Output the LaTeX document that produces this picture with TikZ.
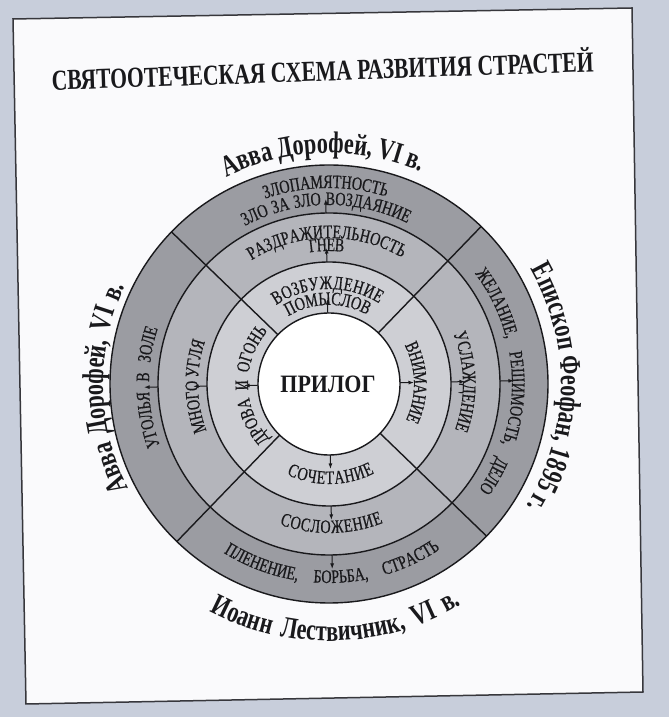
\documentclass[tikz,border=0pt]{standalone}
\usepackage{fontspec}
\setmainfont{Liberation Serif}
\newfontfamily\ringf[FakeStretch=0.74,FakeBold=0.6]{Liberation Serif}
\newfontfamily\labf[FakeStretch=0.74]{Liberation Serif}
\newfontfamily\prf[FakeStretch=0.88]{Liberation Serif}
\newfontfamily\titf[FakeStretch=0.745]{Liberation Serif}
\usetikzlibrary{arrows.meta,calc}
\definecolor{bgc}{RGB}{200,206,219}
\definecolor{paper}{RGB}{250,250,252}
\definecolor{framec}{RGB}{55,55,60}
\definecolor{ringA}{RGB}{155,156,162}
\definecolor{ringB}{RGB}{180,181,187}
\definecolor{ringC}{RGB}{206,207,212}
\definecolor{inkc}{RGB}{25,25,28}
\newcommand\RS{\ringf\fontsize{19}{21}\selectfont}
\newcommand\LBL{\labf\bfseries\fontsize{30}{32}\selectfont}
\ExplSyntaxOn
\box_new:N \l__arc_box
\dim_new:N \l__arc_L_dim
\int_new:N \l__arc_n_int
\int_new:N \l__arc_m_int
\fp_new:N \l__arc_T_fp
\fp_new:N \l__arc_L_fp
\fp_new:N \l__arc_gap_fp
\fp_new:N \l__arc_trk_fp
\fp_new:N \l__arc_W_fp
\fp_new:N \l__arc_pos_fp
\fp_new:N \l__arc_w_fp
\fp_new:N \l__arc_th_fp
\tl_new:N \g__arc_nodes_tl
\fp_const:Nn \c__arc_cx_fp {329}
\fp_const:Nn \c__arc_cy_fp {333}
\fp_const:Nn \c__arc_rot_fp {1}
% #1 baseline radius, #2 centre angle, #3 direction (1 = clockwise, tops outward; -1 = anticlockwise, tops inward)
% #4 font, #5 target chord of the whole text, #6 text
\NewDocumentCommand \arcstr { m m m m m m }
  {
    \dim_zero:N \l__arc_L_dim
    \int_zero:N \l__arc_n_int
    \int_zero:N \l__arc_m_int
    \str_map_inline:nn {#6}
      {
        \str_if_eq:nnTF {##1} {~}
          { \int_incr:N \l__arc_n_int }
          {
            \hbox_set:Nn \l__arc_box { #4 ##1 }
            \dim_add:Nn \l__arc_L_dim { \box_wd:N \l__arc_box }
            \int_incr:N \l__arc_m_int
          }
      }
    \fp_set:Nn \l__arc_T_fp { (#1) * 2 * asin( (#5) / (2 * ((#1) + 6 * (#3))) ) }
    \fp_set:Nn \l__arc_L_fp { \dim_to_fp:n { \l__arc_L_dim } }
    \int_compare:nNnTF { \l__arc_n_int } > { 0 }
      {
        \fp_set:Nn \l__arc_gap_fp { max( (\l__arc_T_fp - \l__arc_L_fp) / \l__arc_n_int , 3 ) }
        \fp_set:Nn \l__arc_trk_fp { 0 }
      }
      {
        \fp_set:Nn \l__arc_gap_fp { 0 }
        \fp_set:Nn \l__arc_trk_fp { (\l__arc_T_fp - \l__arc_L_fp) / \l__arc_m_int }
      }
    \fp_set:Nn \l__arc_W_fp { \l__arc_L_fp + \l__arc_n_int * \l__arc_gap_fp + \l__arc_m_int * \l__arc_trk_fp }
    \fp_set:Nn \l__arc_pos_fp { 0 }
    \str_map_inline:nn {#6}
      {
        \str_if_eq:nnTF {##1} {~}
          { \fp_add:Nn \l__arc_pos_fp { \l__arc_gap_fp } }
          {
            \hbox_set:Nn \l__arc_box { #4 ##1 }
            \fp_set:Nn \l__arc_w_fp { \dim_to_fp:n { \box_wd:N \l__arc_box } + \l__arc_trk_fp }
            \fp_set:Nn \l__arc_th_fp
              { #2 + \c__arc_rot_fp + (#3) * ( \l__arc_W_fp / 2 - \l__arc_pos_fp - \l__arc_w_fp / 2 ) / (#1) * 180 / pi }
            \tl_gput_right:Nx \g__arc_nodes_tl
              {
                \exp_not:N \node [anchor=base, inner~sep=0pt, text=inkc,
                  rotate = \fp_eval:n { round( \l__arc_th_fp - 90 * (#3), 3) } ]
                  ~ at ~ ( \fp_eval:n { round( \c__arc_cx_fp + (#1) * cosd(\l__arc_th_fp), 3) } pt ,
                           \fp_eval:n { round( \c__arc_cy_fp + (#1) * sind(\l__arc_th_fp), 3) } pt )
                  { \exp_not:n { #4 ##1 } } ;
              }
            \fp_add:Nn \l__arc_pos_fp { \l__arc_w_fp }
          }
      }
  }
\NewDocumentCommand \arcnodes { } { \tl_use:N \g__arc_nodes_tl }
\ExplSyntaxOff
\tikzset{
  ringline/.style={draw=inkc,line width=1.4pt},
  axisarrow/.style={draw=inkc,line width=1pt,-{Latex[length=5.5pt,width=4pt]}},
}
\begin{document}
% top sector
\arcstr{196}{90}{1}{\RS}{125}{ЗЛОПАМЯТНОСТЬ}
\arcstr{179}{90}{1}{\RS}{168}{ЗЛО ЗА ЗЛО ВОЗДАЯНИЕ}
\arcstr{146}{90}{1}{\RS}{157}{РАЗДРАЖИТЕЛЬНОСТЬ}
\arcstr{133}{90}{1}{\RS}{35}{ГНЕВ}
\arcstr{95}{90}{1}{\RS}{110}{ВОЗБУЖДЕНИЕ}
\arcstr{79}{90}{1}{\RS}{85}{ПОМЫСЛОВ}
% left sector
\arcstr{180}{180}{1}{\RS}{121}{УГОЛЬЯ В ЗОЛЕ}
\arcstr{131}{180}{1}{\RS}{93}{МНОГО УГЛЯ}
\arcstr{81}{180}{1}{\RS}{116}{ДРОВА И ОГОНЬ}
% right sector
\arcstr{85}{0}{1}{\RS}{80}{ВНИМАНИЕ}
\arcstr{134}{0}{1}{\RS}{100}{УСЛАЖДЕНИЕ}
\arcstr{183}{0}{1}{\RS}{223}{ЖЕЛАНИЕ, РЕШИМОСТЬ, ДЕЛО}
% bottom sector
\arcstr{100}{270}{-1}{\RS}{83}{СОЧЕТАНИЕ}
\arcstr{149}{270}{-1}{\RS}{100}{СОСЛОЖЕНИЕ}
\arcstr{199}{270}{-1}{\RS}{210}{ПЛЕНЕНИЕ, БОРЬБА, СТРАСТЬ}
% outer labels
\arcstr{231}{90.5}{1}{\LBL}{200}{Авва Дорофей, VI в.}
\arcstr{226}{180}{1}{\LBL}{208}{Авва Дорофей, VI в.}
\arcstr{232}{-2}{1}{\LBL}{243}{Епископ Феофан, 1895 г.}
\arcstr{257}{270.7}{-1}{\LBL}{246}{Иоанн Лествичник, VI в.}
\begin{tikzpicture}[x=1pt,y=1pt]
\useasboundingbox (0,0) rectangle (669,717);
\fill[bgc] (0,0) rectangle (669,717);
\coordinate (f1) at (13,698);
\coordinate (f2) at (632,709);
\coordinate (f3) at (643,25);
\coordinate (f4) at (26,13);
\draw[framec,line width=1.5pt,fill=paper] (f1) -- (f2) -- (f3) -- (f4) -- cycle;
\node[anchor=base,rotate=2,inner sep=0pt,text=inkc] (title) at (323,636)
  {\titf\bfseries\fontsize{29}{32}\selectfont СВЯТООТЕЧЕСКАЯ СХЕМА РАЗВИТИЯ СТРАСТЕЙ};
\coordinate (C) at (329,333);
\def\rot{1}
\fill[ringA] (C) circle (219);
\fill[ringB] (C) circle (171);
\fill[ringC] (C) circle (122);
\fill[white] (C) circle (71);
\foreach \r in {71,122,171,219} \draw[ringline] (C) circle (\r);
\foreach \a in {45,135,225,315}
  \draw[ringline] ($(C)+({\a+\rot}:71)$) -- ($(C)+({\a+\rot}:219)$);
\foreach \a in {0,90,180,270}
  \foreach \r in {71,122,171}
    \draw[axisarrow] ($(C)+({\a+\rot}:\r)$) -- ($(C)+({\a+\rot}:{\r+14})$);
\arcnodes
\node[anchor=base,inner sep=0pt,text=inkc] (prilog) at ($(C)+(-1,-9)$)
  {\prf\bfseries\fontsize{25}{28}\selectfont ПРИЛОГ};
\end{tikzpicture}
\end{document}
